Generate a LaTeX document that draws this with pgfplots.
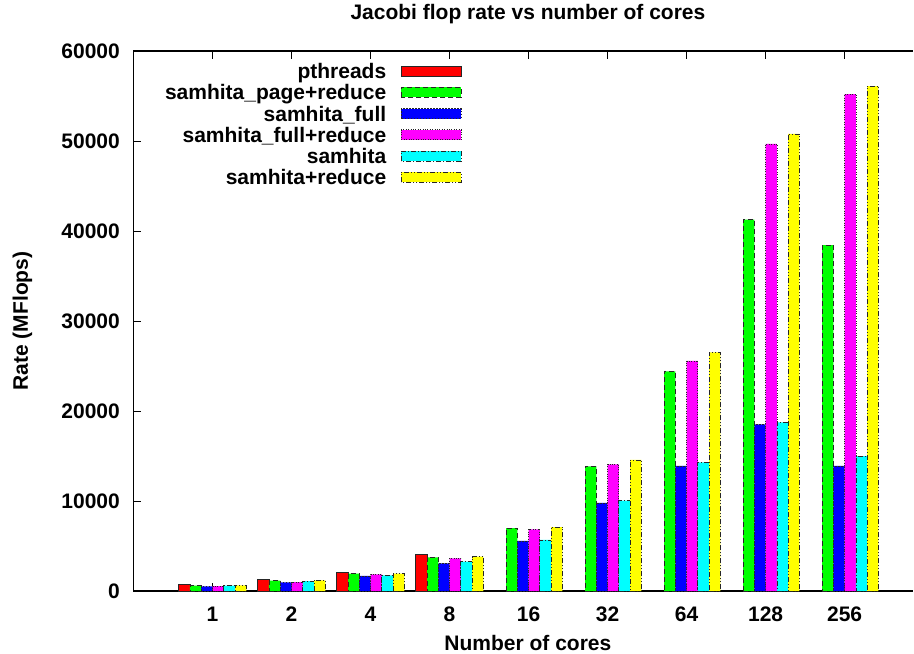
\documentclass[border=0pt]{standalone}
\usepackage{fontspec}
\setmainfont{Liberation Sans}
\usepackage{pgfplots}
\pgfplotsset{compat=1.18}

\definecolor{gpred}{RGB}{255,0,0}
\definecolor{gpgreen}{RGB}{0,255,0}
\definecolor{gpblue}{RGB}{0,0,255}
\definecolor{gpmagenta}{RGB}{255,0,255}
\definecolor{gpcyan}{RGB}{0,255,255}
\definecolor{gpyellow}{RGB}{255,255,0}

\newcommand{\lbl}{\fontsize{21bp}{25bp}\selectfont\bfseries}

\begin{document}
\begin{tikzpicture}
\begin{axis}[
  scale only axis, width=779.5bp, height=540bp,
  xmin=-1, xmax=8.865, ymin=0, ymax=60000,
  ybar=0pt, bar width=11.27bp,
  axis x line*=box, axis y line*=left,
  axis line style={-, line width=1.5bp, black},
  tick align=inside, major tick length=8bp,
  tick style={line width=1bp, black},
  xtick={0,...,8}, xticklabels={1,2,4,8,16,32,64,128,256},
  ytick={0,10000,...,60000},
  scaled y ticks=false,
  /pgf/number format/1000 sep={},
  /pgf/number format/assume math mode=true,
  tick label style={font=\lbl, inner sep=0pt},
  xticklabel style={anchor=north, yshift=-15.7bp},
  yticklabel style={anchor=east, xshift=-13.5bp},
  title={Jacobi flop rate vs number of cores},
  title style={font=\lbl, at={(axis description cs:0.506,1)}, anchor=base, yshift=26bp},
  xlabel={Number of cores},
  xlabel style={font=\lbl, at={(axis description cs:0.506,0)}, anchor=base, yshift=-59bp},
  ylabel={Rate (MFlops)},
  ylabel style={font=\lbl, at={(axis description cs:0,0.5)}, anchor=center, yshift=111bp},
  legend plot pos=right,
  legend cell align=right,
  legend image code/.code={\draw[#1] (0bp,-1.85bp) rectangle (60bp,8.15bp);},
  legend style={draw=none, fill=none, inner sep=0pt, outer sep=0pt,
    at={(axis description cs:0.4211,0.9769)}, anchor=north east,
    row sep=0pt, column sep=14.7bp,
    font=\lbl,
    nodes={inner sep=0pt, text height=15bp, text depth=6.3bp}},
  every axis plot/.append style={draw=black!85, line width=0.8bp},
  clip=false,
]
\coordinate (O) at (rel axis cs:0,0);

% pthreads
\addplot[fill=gpred, draw=black!85, solid]
  coordinates {(0,700) (1,1270) (2,2080) (3,4080)};
\addlegendentry{pthreads}
% samhita_page+reduce
\addplot[fill=gpgreen, draw=black!85, dash pattern=on 5bp off 3bp]
  coordinates {(0,600) (1,1150) (2,1930) (3,3740) (4,7000) (5,13850) (6,24410) (7,41260) (8,38440)};
\addlegendentry{samhita\_page+reduce}
% samhita_full
\addplot[fill=gpblue, draw=black!85, dash pattern=on 1.5bp off 1.5bp]
  coordinates {(0,520) (1,960) (2,1670) (3,3080) (4,5560) (5,9780) (6,13890) (7,18520) (8,13890)};
\addlegendentry{samhita\_full}
% samhita_full+reduce
\addplot[fill=gpmagenta, draw=black!85, dash pattern=on 0.8bp off 1.6bp]
  coordinates {(0,530) (1,1000) (2,1850) (3,3630) (4,6850) (5,14070) (6,25560) (7,49670) (8,55220)};
\addlegendentry{samhita\_full+reduce}
% samhita
\addplot[fill=gpcyan, draw=black!85, dash pattern=on 5bp off 2bp on 1bp off 2bp]
  coordinates {(0,600) (1,1110) (2,1740) (3,3260) (4,5670) (5,10040) (6,14300) (7,18740) (8,15000)};
\addlegendentry{samhita}
% samhita+reduce
\addplot[fill=gpyellow, draw=black!85, dash pattern=on 5bp off 2bp on 1bp off 2bp on 1bp off 2bp]
  coordinates {(0,620) (1,1190) (2,1930) (3,3810) (4,7110) (5,14560) (6,26520) (7,50780) (8,56110)};
\addlegendentry{samhita+reduce}
\end{axis}
% page frame
\path ([shift={(-133.5bp,-62bp)}]O) rectangle ([shift={(780.5bp,591bp)}]O);
\end{tikzpicture}
\end{document}
